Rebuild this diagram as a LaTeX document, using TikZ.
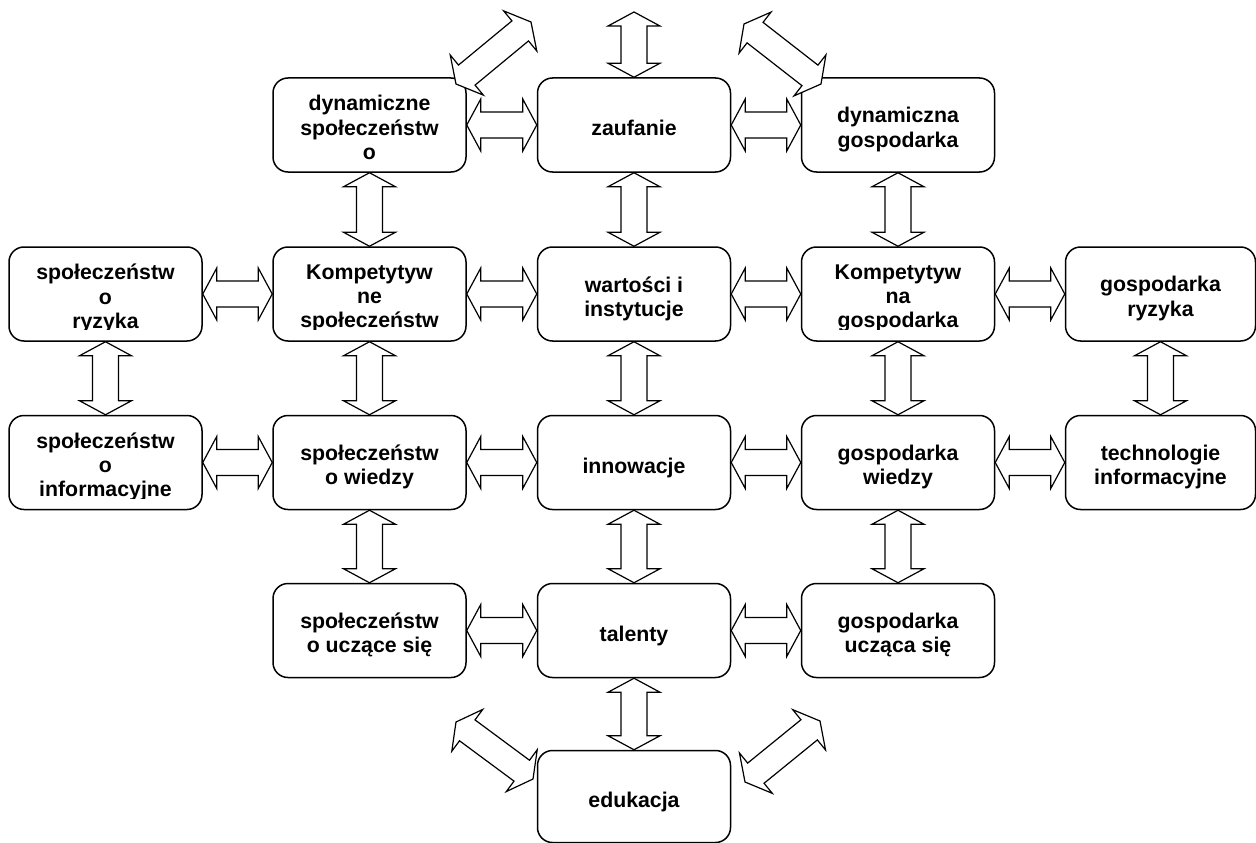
\documentclass[tikz,border=0pt]{standalone}
\usepackage{fontspec}
\setmainfont{Liberation Sans}
\usetikzlibrary{calc}

% hollow double block arrow between two points
\newcommand\dblarrow[2]{%
  \draw[blockarrow] (#1)
    -- ($(#1)!14pt!(#2)!26pt!90:(#2)$) -- ($(#1)!14pt!(#2)!13pt!90:(#2)$)
    -- ($(#2)!14pt!(#1)!13pt!-90:(#1)$) -- ($(#2)!14pt!(#1)!26pt!-90:(#1)$)
    -- (#2)
    -- ($(#2)!14pt!(#1)!26pt!90:(#1)$) -- ($(#2)!14pt!(#1)!13pt!90:(#1)$)
    -- ($(#1)!14pt!(#2)!13pt!-90:(#2)$) -- ($(#1)!14pt!(#2)!26pt!-90:(#2)$)
    -- cycle;}
% text of a box, cut off at the inner margin
\newcommand\boxtext[2]{%
  \begin{scope}
    \clip ([yshift=12pt]#1.south west) rectangle (#1.north east);
    \node[boxlabel] (#1-t) at ([yshift=-6pt]#1.center) {#2};
  \end{scope}}

\begin{document}
\begin{tikzpicture}[x=1pt,y=-1pt,
  box/.style={draw, line width=1.5pt, rounded corners=15pt,
    minimum width=193pt, minimum height=94pt, inner sep=0pt},
  boxlabel/.style={align=center, inner sep=0pt,
    font=\bfseries\fontsize{21.3}{24.2}\selectfont,
    execute at begin node=\strut, execute at end node=\strut},
  blockarrow/.style={draw, fill=white, line width=1.2pt, line join=miter}]
\useasboundingbox (0,0) rectangle (1256,843);

% row 1
\node[box] (dspol) at (369.5,125) {};
\node[box] (zauf)  at (634,125) {};
\node[box] (dgosp) at (898,125) {};
% row 2
\node[box] (sryz)  at (105.5,294) {};
\node[box] (kspol) at (369.5,294) {};
\node[box] (wart)  at (634,294) {};
\node[box] (kgosp) at (898,294) {};
\node[box,minimum width=190pt] (gryz) at (1160.5,294) {};
% row 3
\node[box] (sinf)  at (105.5,462.5) {};
\node[box] (swie)  at (369.5,462.5) {};
\node[box] (innow) at (634,462.5) {};
\node[box] (gwie)  at (898,462.5) {};
\node[box,minimum width=190pt] (techn) at (1160.5,462.5) {};
% row 4
\node[box] (sucz)  at (369.5,630.5) {};
\node[box] (talen) at (634,630.5) {};
\node[box] (gucz)  at (898,630.5) {};
% row 5
\node[box,minimum height=92pt] (eduk) at (634,796.5) {};

\boxtext{dspol}{dynamiczne\\społeczeństw\\o}
\boxtext{zauf}{zaufanie}
\boxtext{dgosp}{dynamiczna\\gospodarka}
\boxtext{sryz}{społeczeństw\\o\\ryzyka}
\boxtext{kspol}{Kompetytyw\\ne\\społeczeństw}
\boxtext{wart}{wartości i\\instytucje}
\boxtext{kgosp}{Kompetytyw\\na\\gospodarka}
\boxtext{gryz}{gospodarka\\ryzyka}
\boxtext{sinf}{społeczeństw\\o\\informacyjne}
\boxtext{swie}{społeczeństw\\o wiedzy}
\boxtext{innow}{innowacje}
\boxtext{gwie}{gospodarka\\wiedzy}
\boxtext{techn}{technologie\\informacyjne}
\boxtext{sucz}{społeczeństw\\o uczące się}
\boxtext{talen}{talenty}
\boxtext{gucz}{gospodarka\\ucząca się}
\boxtext{eduk}{edukacja}

% free ends
\coordinate (up)  at (634,12);
\coordinate (tl1) at (456,84);  \coordinate (tl2) at (531,22);
\coordinate (tr1) at (744,24);  \coordinate (tr2) at (821,84);
\coordinate (bl1) at (456,722); \coordinate (bl2) at (533,779);
\coordinate (br1) at (745,782); \coordinate (br2) at (820,721);

% horizontal links
\dblarrow{dspol.east}{zauf.west}
\dblarrow{zauf.east}{dgosp.west}
\dblarrow{sryz.east}{kspol.west}
\dblarrow{kspol.east}{wart.west}
\dblarrow{wart.east}{kgosp.west}
\dblarrow{kgosp.east}{gryz.west}
\dblarrow{sinf.east}{swie.west}
\dblarrow{swie.east}{innow.west}
\dblarrow{innow.east}{gwie.west}
\dblarrow{gwie.east}{techn.west}
\dblarrow{sucz.east}{talen.west}
\dblarrow{talen.east}{gucz.west}
% vertical links
\dblarrow{zauf.north}{up}
\dblarrow{dspol.south}{kspol.north}
\dblarrow{zauf.south}{wart.north}
\dblarrow{dgosp.south}{kgosp.north}
\dblarrow{sryz.south}{sinf.north}
\dblarrow{kspol.south}{swie.north}
\dblarrow{wart.south}{innow.north}
\dblarrow{kgosp.south}{gwie.north}
\dblarrow{gryz.south}{techn.north}
\dblarrow{swie.south}{sucz.north}
\dblarrow{innow.south}{talen.north}
\dblarrow{gwie.south}{gucz.north}
\dblarrow{talen.south}{eduk.north}
% diagonal links
\dblarrow{tl1}{tl2}
\dblarrow{tr1}{tr2}
\dblarrow{bl1}{bl2}
\dblarrow{br1}{br2}
\end{tikzpicture}
\end{document}
